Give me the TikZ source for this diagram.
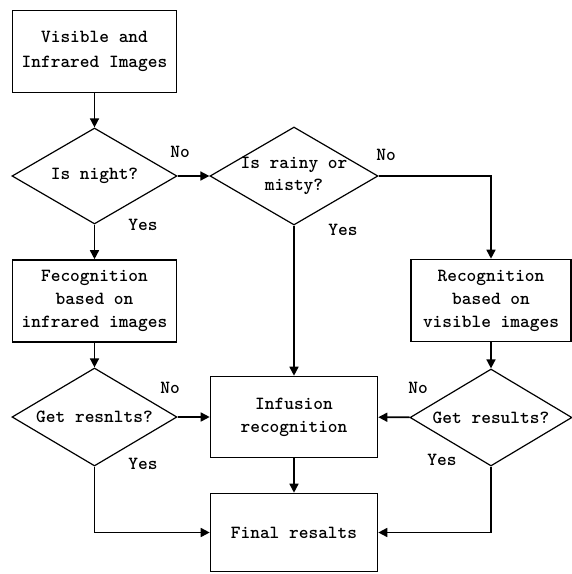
\documentclass[tikz,border=0pt]{standalone}
\usetikzlibrary{shapes.geometric,arrows.meta}
\begin{document}
\begin{tikzpicture}[x=1pt,y=-1pt,
  font=\ttfamily\bfseries\fontsize{18.5}{23}\selectfont,
  box/.style={draw,line width=1.6pt,rectangle,align=center,inner sep=0pt},
  dia/.style={draw,line width=1.2pt,diamond,inner sep=0pt},
  conn/.style={line width=1.6pt,-{Triangle[length=9pt,width=9pt]}},
  plain/.style={line width=1.6pt},
  lab/.style={inner sep=0pt}]
\useasboundingbox (0,0) rectangle (572,574);
% boxes
\node[box,minimum width=164pt,minimum height=82pt] (b1) at (94.5,51.5) {Visible and\\[2pt]Infrared Images};
\node[box,minimum width=164pt,minimum height=82pt] (bl) at (94.5,301) {Fecognition\\based on\\infrared images};
\node[box,minimum width=160pt,minimum height=82pt] (br) at (491,300.5) {Recognition\\based on\\visible images};
\node[box,minimum width=167pt,minimum height=81pt] (inf) at (294,417) {Infusion\\recognition};
\node[box,minimum width=167pt,minimum height=78pt] (fin) at (294,532.5) {Final resalts};
% diamonds
\node[dia,minimum width=165pt,minimum height=96pt,label={center:Is night?}] (d1) at (94.5,176) {};
\node[dia,minimum width=168pt,minimum height=98pt,label={[align=center,font=\ttfamily\bfseries\fontsize{18.5}{22}\selectfont]center:Is rainy or\\misty?}] (d2) at (294,176) {};
\node[dia,minimum width=165pt,minimum height=98pt,label={center:Get resnlts?}] (d3) at (94.5,417) {};
\node[dia,minimum width=162pt,minimum height=97pt,label={center:Get results?}] (d4) at (491,417.5) {};
% connectors
\draw[conn] (b1) -- (d1);
\draw[conn] (d1) -- (bl);
\draw[conn] (d1) -- (d2);
\draw[conn] (d2.east) -| (br.north);
\draw[conn] (d2) -- (inf);
\draw[conn] (bl) -- (d3);
\draw[conn] (d3) -- (inf);
\draw[conn] (d3.south) |- (fin.west);
\draw[conn] (br) -- (d4);
\draw[conn] (d4) -- (inf);
\draw[conn] (d4.south) |- (fin.east);
\draw[conn] (inf) -- (fin);
% labels
\node[lab] (l1) at (180,152) {No};
\node[lab] (l2) at (143,225) {Yes};
\node[lab] (l3) at (386,155) {No};
\node[lab] (l4) at (343,230) {Yes};
\node[lab] (l5) at (170,388) {No};
\node[lab] (l6) at (143,464) {Yes};
\node[lab] (l7) at (418,388) {No};
\node[lab] (l8) at (442,460) {Yes};
\end{tikzpicture}
\end{document}
